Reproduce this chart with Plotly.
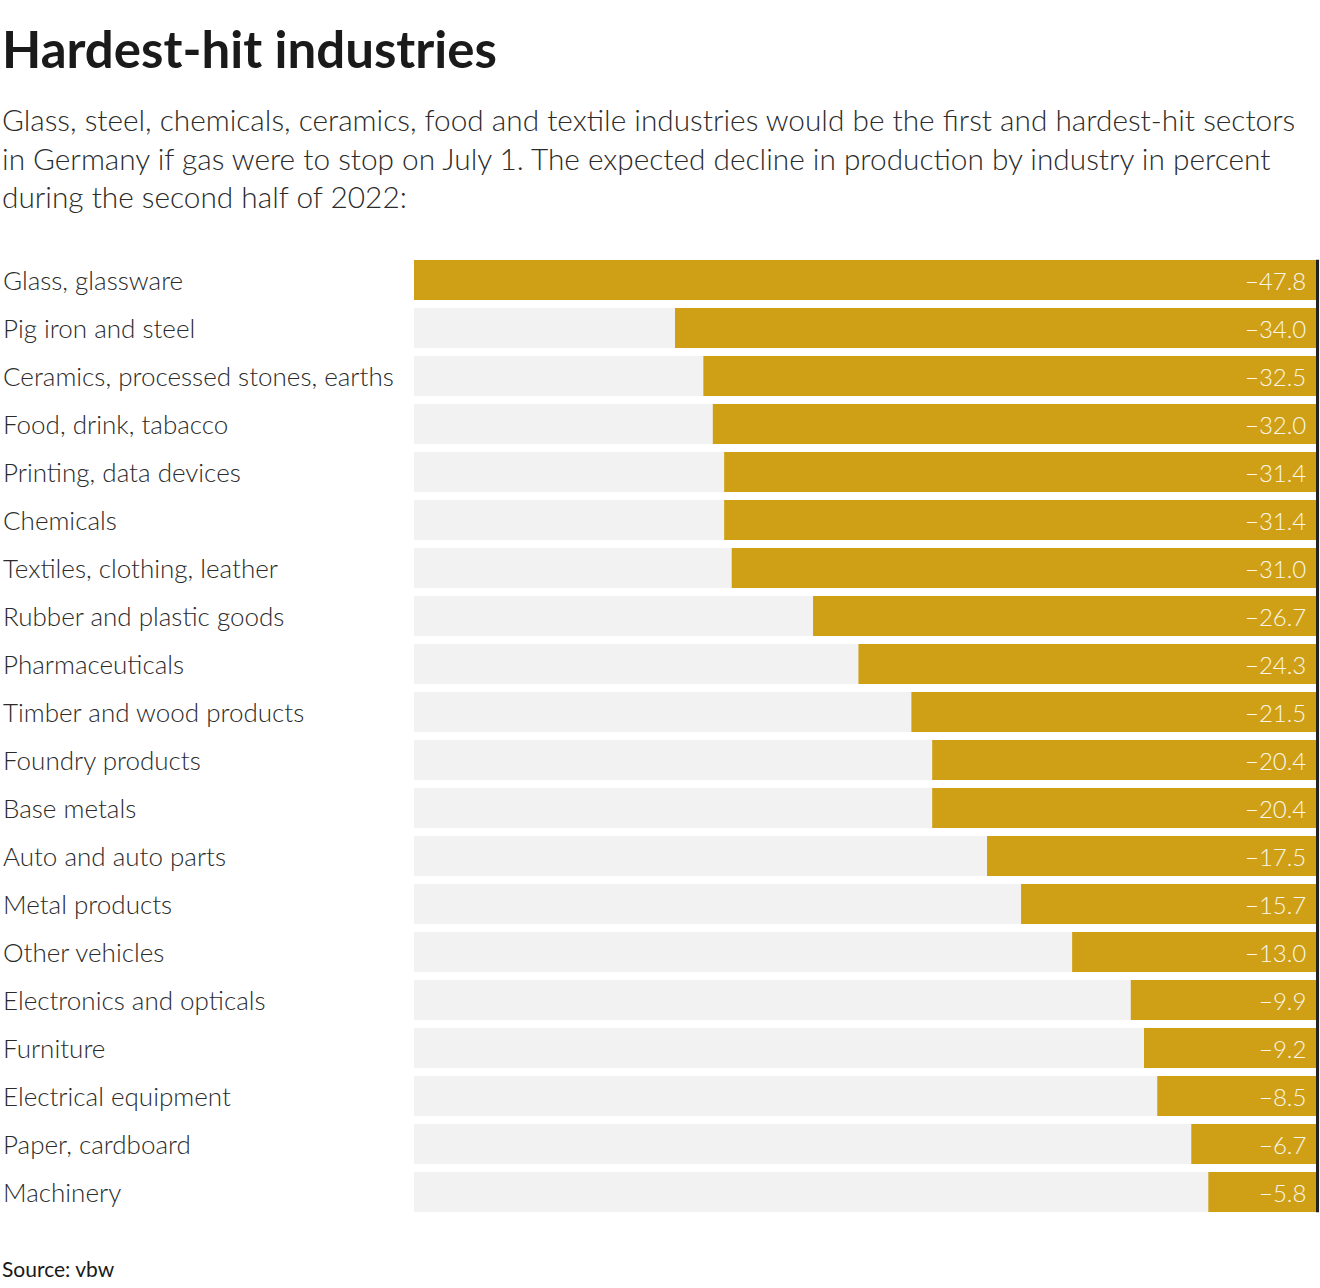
import plotly.graph_objects as go

industries = [
    "Glass, glassware", "Pig iron and steel", "Ceramics, processed stones, earths",
    "Food, drink, tabacco", "Printing, data devices", "Chemicals",
    "Textiles, clothing, leather", "Rubber and plastic goods", "Pharmaceuticals",
    "Timber and wood products", "Foundry products", "Base metals",
    "Auto and auto parts", "Metal products", "Other vehicles",
    "Electronics and opticals", "Furniture", "Electrical equipment",
    "Paper, cardboard", "Machinery",
]
decline = [-47.8, -34.0, -32.5, -32.0, -31.4, -31.4, -31.0, -26.7, -24.3, -21.5,
           -20.4, -20.4, -17.5, -15.7, -13.0, -9.9, -9.2, -8.5, -6.7, -5.8]

GOLD = "#cfa016"
FONT = "Lato"

W, H = 1320, 1288
L, R, T, B = 414, 2, 256, 72
pw = W - L - R
ph = H - T - B


def px_x(page_x):
    return (page_x - L) / pw


def px_y(page_y):
    return (H - B - page_y) / ph


xmin = min(decline)

fig = go.Figure()
# grey track behind every bar
fig.add_trace(go.Bar(
    y=industries, x=[xmin] * len(industries), orientation="h",
    marker=dict(color="#f2f2f2", line_width=0), hoverinfo="skip",
))
fig.add_trace(go.Bar(
    y=industries, x=decline, orientation="h",
    marker=dict(color=GOLD, line_width=0),
))

for name, v in zip(industries, decline):
    fig.add_annotation(
        x=px_x(1), xref="paper", y=name, yref="y",
        text=name, showarrow=False, xanchor="left",
        font=dict(family=FONT, size=26, color="#2b2b2b", weight=300),
    )
    fig.add_annotation(
        x=0, xref="x", y=name, yref="y", xshift=-10,
        text=f"{v:.1f}".replace("-", "\u2212"), showarrow=False, xanchor="right",
        font=dict(family=FONT, size=24, color="#fbf6e8", weight=300),
    )

# zero line on the right edge
fig.add_shape(type="line", xref="paper", yref="paper", x0=px_x(1317.5), x1=px_x(1317.5),
              y0=0.004, y1=0.996, line=dict(color="#222222", width=3))

fig.add_annotation(
    x=px_x(0), xref="paper", y=px_y(48), yref="paper", yanchor="middle",
    text="<b>Hardest-hit industries</b>", showarrow=False, xanchor="left",
    font=dict(family=FONT, size=51, color="#1a1a1a"),
)
subtitle = ("Glass, steel, chemicals, ceramics, food and textile industries would be the first and hardest-hit sectors<br>"
            "in Germany if gas were to stop on July 1. The expected decline in production by industry in percent<br>"
            "during the second half of 2022:")
fig.add_annotation(
    x=px_x(0), xref="paper", y=px_y(100), yref="paper", yanchor="top",
    text=subtitle, showarrow=False, xanchor="left", align="left",
    font=dict(family=FONT, size=29.8, color="#2b2b2b", weight=300),
)
fig.add_annotation(
    x=px_x(0), xref="paper", y=px_y(1268), yref="paper", yanchor="middle",
    text="Source: vbw", showarrow=False, xanchor="left",
    font=dict(family=FONT, size=21, color="#1a1a1a"),
)

fig.update_layout(
    width=W, height=H,
    margin=dict(l=L, r=R, t=T, b=B),
    paper_bgcolor="white", plot_bgcolor="white",
    barmode="overlay", bargap=0.167, showlegend=False,
    xaxis=dict(range=[xmin, 0], visible=False, fixedrange=True),
    yaxis=dict(autorange="reversed", showticklabels=False, showgrid=False,
               zeroline=False, fixedrange=True),
    font=dict(family=FONT),
)

# drop the default body margin so the figure fills the window exactly
fig.write_html("out.html", config={"displayModeBar": False},
               post_script="document.body.style.margin='0';document.body.style.overflow='hidden';")
